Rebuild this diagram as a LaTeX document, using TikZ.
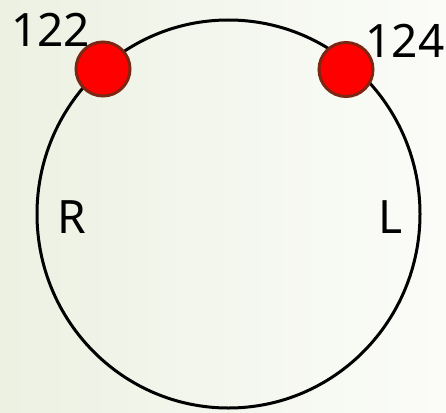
\documentclass[tikz,border=0pt]{standalone}
\usepackage{fontspec}
\setmainfont{Noto Sans}
\usepackage{xcolor}
\usepackage{tikz}
\usetikzlibrary{positioning, calc}

\definecolor{bgleft}{RGB}{236,241,226}
\definecolor{bgright}{RGB}{251,252,249}
\definecolor{dotline}{RGB}{125,38,20}

\begin{document}
\begin{tikzpicture}[
    x=1pt, y=-1pt,
    marker/.style={draw=dotline, circle, fill=red, line width=3pt, minimum size=54pt, inner sep=0pt},
    lbl/.style={font=\fontsize{46}{46}\selectfont, inner sep=0pt, anchor=base}
  ]
  % Background
  \shade[left color=bgleft, right color=bgright] (0,0) rectangle (446,412);
  \useasboundingbox (0,0) rectangle (446,412);

  % Ring
  \coordinate (ctr) at (228.5,214);
  \draw[line width=3pt] (ctr) ellipse [x radius=191.5pt, y radius=194pt];

  % Markers
  \node[marker] (m122) at (103,69) {};
  \node[marker] (m124) at (346,69.5) {};

  % Labels
  \node[lbl] (t122) at (50.5,47) {122};
  \node[lbl] (t124) at (405,57) {124};
  \node[lbl] (tr) at (71.5,233) {R};
  \node[lbl] (tl) at (391,233) {L};
\end{tikzpicture}
\end{document}
